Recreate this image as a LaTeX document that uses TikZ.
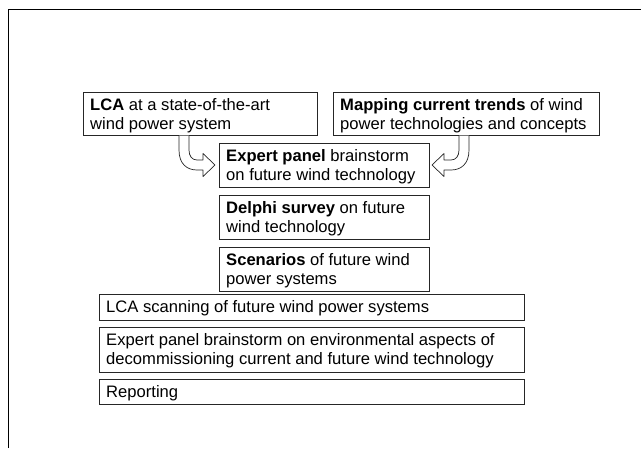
\documentclass[tikz,border=0pt]{standalone}
\usepackage{fontspec}
\setmainfont{Liberation Sans}
\begin{document}
\begin{tikzpicture}[x=1pt,y=-1pt,
  stagebox/.style={draw=black!85, line width=0.9pt, anchor=north west, inner sep=0pt},
  stagetext/.style={anchor=north west, inner sep=0pt, align=left, font=\fontsize{16.6}{18.3}\selectfont},
  blockarrow/.style={draw=black!85, line width=0.7pt, fill=white, line join=round}]
\useasboundingbox (0,0) rectangle (641,448);
% page frame
\draw[line width=0.9pt] (8,448) -- (8,9) -- (641,9);
% boxes
\node[stagebox, minimum width=234pt, minimum height=43pt] (lca) at (83,92) {};
\node[stagebox, minimum width=266pt, minimum height=43pt] (map) at (333,92) {};
\node[stagebox, minimum width=210pt, minimum height=44pt] (exp) at (219,143) {};
\node[stagebox, minimum width=210pt, minimum height=44pt] (del) at (219,195) {};
\node[stagebox, minimum width=210pt, minimum height=44pt] (scn) at (219,247) {};
\node[stagebox, minimum width=425pt, minimum height=26pt] (lcs) at (99,294) {};
\node[stagebox, minimum width=425pt, minimum height=45pt] (env) at (99,327) {};
\node[stagebox, minimum width=425pt, minimum height=25pt] (rep) at (99,379) {};
% texts
\node[stagetext] (lcat) at (90,96.5) {\rule{0pt}{14pt}\textbf{LCA} at a state-of-the-art\\wind power system};
\node[stagetext] (mapt) at (340,96.5) {\rule{0pt}{14pt}\textbf{Mapping current trends} of wind\\power technologies and concepts};
\node[stagetext] (expt) at (226,147.5) {\rule{0pt}{14pt}\textbf{Expert panel} brainstorm\\on future wind technology};
\node[stagetext] (delt) at (226,199.5) {\rule{0pt}{14pt}\textbf{Delphi survey} on future\\wind technology};
\node[stagetext] (scnt) at (226,251.5) {\rule{0pt}{14pt}\textbf{Scenarios} of future wind\\power systems};
\node[stagetext] (lcst) at (106,298.5) {\rule{0pt}{14pt}LCA scanning of future wind power systems};
\node[stagetext] (envt) at (106,331.5) {\rule{0pt}{14pt}Expert panel brainstorm on environmental aspects of\\decommissioning current and future wind technology};
\node[stagetext] (rept) at (106,383.5) {\rule{0pt}{14pt}Reporting};
% curved block arrows
\draw[blockarrow] (179,135.5) -- (179,150) .. controls (179,164) and (187,170) .. (197,170) -- (203,170) -- (203,176.5) -- (215,165) -- (203,153.5) -- (203,160) -- (197,160) .. controls (192,160) and (189,156) .. (189,150) -- (189,135.5);
\draw[blockarrow] (469,135.5) -- (469,150) .. controls (469,164) and (461,170) .. (451,170) -- (444,170) -- (444,176.5) -- (432,165) -- (444,153.5) -- (444,160) -- (451,160) .. controls (456,160) and (459,156) .. (459,150) -- (459,135.5);
\end{tikzpicture}
\end{document}
